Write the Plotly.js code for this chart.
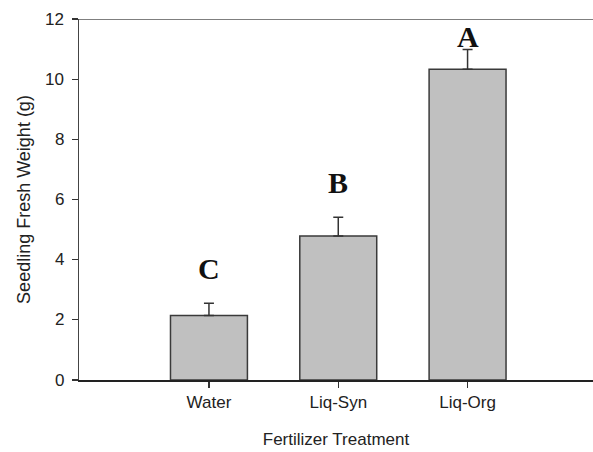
<!DOCTYPE html>
<html>
<head>
<meta charset="utf-8">
<script src="https://cdn.plot.ly/plotly-3.0.1.min.js"></script>
<style>html,body{margin:0;padding:0;background:#fff;}#chart{width:593px;height:452px;}</style>
</head>
<body>
<div id="chart"></div>
<script>
const categories = ["Water", "Liq-Syn", "Liq-Org"];
const meanWeight = [2.14, 4.79, 10.33];
const errorPlus = [0.41, 0.62, 0.66];
const groupLetters = ["C", "B", "A"];
const letterY = [3.72, 6.55, 11.42];
const yTicks = [0, 2, 4, 6, 8, 10, 12];

const trace = {
  type: "bar",
  x: [0, 1, 2],
  y: meanWeight,
  width: 0.595,
  marker: {color: "#c0c0c0", line: {color: "#3a3a3a", width: 1.5}},
  error_y: {type: "data", symmetric: false, array: errorPlus, arrayminus: errorPlus.map(() => 0),
            color: "#333", thickness: 1.5, width: 5},
  hoverinfo: "none"
};

const letterAnnotations = groupLetters.map((t, i) => ({
  x: i, y: letterY[i], xref: "x", yref: "y", text: "<b>" + t + "</b>", showarrow: false,
  yanchor: "middle", xanchor: "center",
  font: {family: "Liberation Serif, Times New Roman, serif", size: 30, color: "#111"}
}));

// y tick labels placed through the y axis scale, a little further from the axis
const yTickAnnotations = yTicks.map(v => ({
  x: 0, xref: "paper", y: v, yref: "y", text: String(v), showarrow: false,
  xanchor: "right", yanchor: "middle", xshift: -13,
  font: {family: "Liberation Sans, Arial, sans-serif", size: 17, color: "#222"}
}));

const layout = {
  width: 593, height: 452,
  margin: {l: 79, r: 0, t: 19, b: 72},
  paper_bgcolor: "#fff", plot_bgcolor: "#fff",
  showlegend: false,
  font: {family: "Liberation Sans, Arial, sans-serif", size: 17, color: "#222"},
  xaxis: {
    range: [-1.005, 2.97],
    tickvals: [0, 1, 2], ticktext: categories,
    ticks: "outside", ticklen: 6, tickwidth: 1.2, tickcolor: "#333",
    showline: true, linecolor: "#222", linewidth: 1.5,
    showgrid: false, zeroline: false,
    tickfont: {size: 17, color: "#222"},
    title: {text: "Fertilizer Treatment", font: {size: 17, color: "#222"}, standoff: 22}
  },
  yaxis: {
    range: [0, 12],
    tickvals: yTicks,
    showticklabels: false,
    ticks: "outside", ticklen: 6, tickwidth: 1.2, tickcolor: "#333",
    showline: true, linecolor: "#444", linewidth: 1.5,
    showgrid: false, zeroline: false,
    title: {text: "Seedling Fresh Weight (g)", font: {size: 18, color: "#222"}, standoff: 36}
  },
  shapes: [{type: "line", xref: "paper", yref: "y", x0: 0, x1: 1, y0: 12, y1: 12,
            line: {color: "#555", width: 1.5}}],
  annotations: letterAnnotations.concat(yTickAnnotations)
};

Plotly.newPlot("chart", [trace], layout, {displayModeBar: false, staticPlot: true});
</script>
</body>
</html>
